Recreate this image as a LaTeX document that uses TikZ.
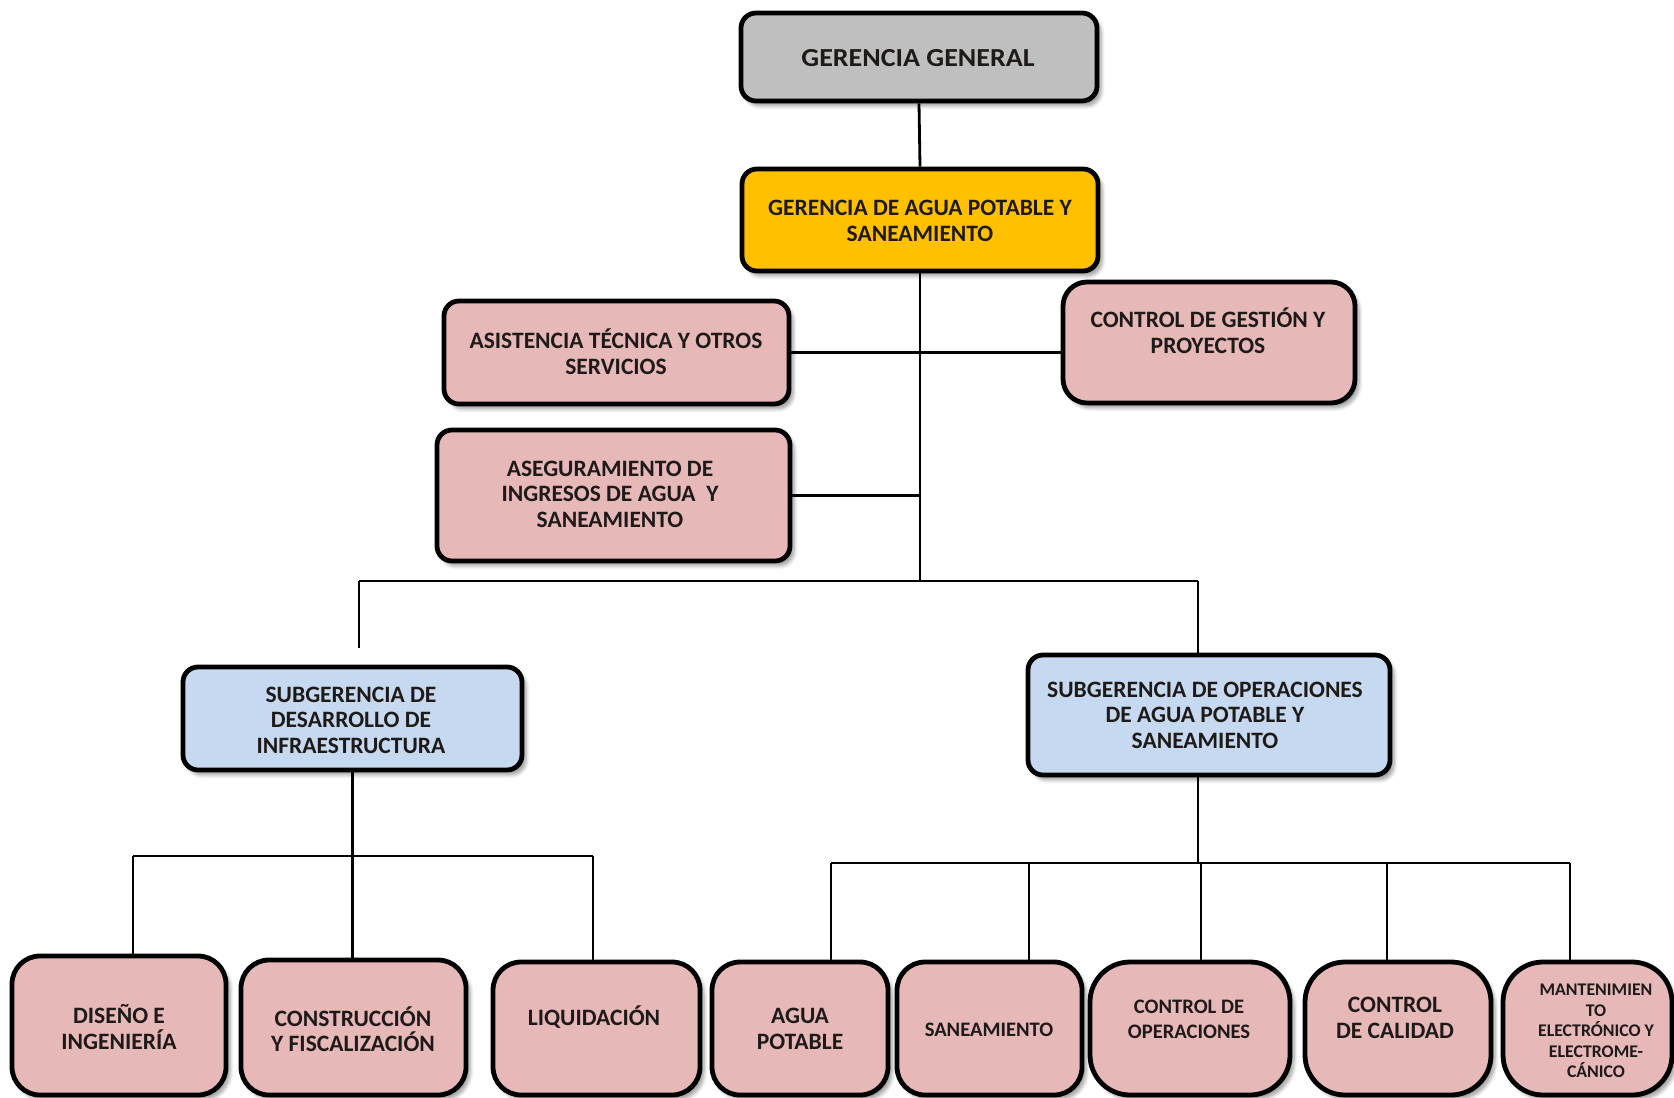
\documentclass[tikz,border=0pt]{standalone}
\usepackage{fontspec}
\usepackage{graphicx}
\setmainfont{Carlito}
\usetikzlibrary{shadows.blur}
\definecolor{ggray}{HTML}{BFBFBF}
\definecolor{ggold}{HTML}{FFC000}
\definecolor{gpink}{HTML}{E6B8B7}
\definecolor{gblue}{HTML}{C6D9F1}
\definecolor{txtc}{HTML}{1E1A18}
\tikzset{
  box/.style={draw=black, line width=2.4pt, rounded corners=7.5pt, inner sep=0pt,
    blur shadow={shadow xshift=2pt, shadow yshift=-2.4pt, shadow blur steps=6, shadow opacity=40}},
  bigr/.style={rounded corners=14pt},
  hugr/.style={rounded corners=20pt},
  conn/.style={line width=1.4pt, draw=black},
  txt/.style={align=center, text=txtc, inner sep=0pt, font=\bfseries\fontsize{11.75}{12.8}\selectfont},
  txtsm/.style={txt, font=\bfseries\fontsize{10.3}{12.4}\selectfont},
  txtxs/.style={txt, font=\bfseries\fontsize{8.9}{10.3}\selectfont},
}
\newcommand\bx[6]{\node[box,#6,minimum width={(#4-#2)*0.5pt},minimum height={(#5-#3)*0.5pt}] (#1) at ({(#2+#4)/2},{(#3+#5)/2}) {};}
\begin{document}
\begin{tikzpicture}[x=0.5pt,y=-0.5pt]
\useasboundingbox (0,0) rectangle (1674,1097);
% boxes
\bx{gg}{741}{13}{1097}{101}{fill=ggray}
\bx{gaps}{742}{169}{1098}{271}{fill=ggold}
\bx{ast}{444}{301}{789}{404}{fill=gpink}
\bx{cgp}{1063}{282}{1355}{403}{fill=gpink,rounded corners=12pt}
\bx{ase}{437}{430}{790}{561}{fill=gpink}
\bx{sdi}{183}{667}{522}{770}{fill=gblue}
\bx{sop}{1028}{655}{1390}{775}{fill=gblue}
\bx{dis}{12}{956}{226}{1095}{fill=gpink,bigr}
\bx{con}{241}{960}{466}{1095}{fill=gpink,bigr}
\bx{liq}{493}{962}{700}{1095}{fill=gpink,bigr}
\bx{agu}{712}{962}{888}{1095}{fill=gpink,bigr}
\bx{san}{897}{962}{1082}{1095}{fill=gpink,bigr}
\bx{cop}{1090}{962}{1290}{1095}{fill=gpink,hugr}
\bx{cca}{1305}{962}{1491}{1095}{fill=gpink,hugr}
\bx{man}{1503}{962}{1672}{1095}{fill=gpink,hugr}
% texts
\node[txt, font=\bfseries\fontsize{12.5}{13}\selectfont] (tgg) at (918,58) {\scalebox{1.12}[1.04]{GERENCIA GENERAL}};
\node[txt] (tgaps) at (920,221) {GERENCIA DE AGUA POTABLE Y\\SANEAMIENTO};
\node[txt] (tast) at (616,352) {ASISTENCIA TÉCNICA Y OTROS\\SERVICIOS};
\node[txt] (tcgp) at (1208,331) {CONTROL DE GESTIÓN Y\\PROYECTOS};
\node[txt] (tase) at (610,494) {ASEGURAMIENTO DE\\INGRESOS DE AGUA \ Y\\SANEAMIENTO};
\node[txt] (tsdi) at (351,720) {SUBGERENCIA DE\\DESARROLLO DE\\INFRAESTRUCTURA};
\node[txt] (tsop) at (1205,715) {SUBGERENCIA DE OPERACIONES\\DE AGUA POTABLE Y\\SANEAMIENTO};
\node[txt] (tdis) at (119,1027) {DISEÑO E\\INGENIERÍA};
\node[txt] (tcon) at (353,1029) {CONSTRUCCIÓN\\Y FISCALIZACIÓN};
\node[txt] (tliq) at (594,1017) {LIQUIDACIÓN};
\node[txt] (tagu) at (800,1029) {AGUA\\POTABLE};
\node[txtsm] (tsan) at (989,1030) {SANEAMIENTO};
\node[txtsm] (tcop) at (1189,1019) {CONTROL DE\\OPERACIONES};
\node[txt] (tcca) at (1395,1018) {CONTROL\\DE CALIDAD};
\node[txtxs] (tman) at (1596,1031) {MANTENIMIEN\\TO\\ELECTRÓNICO Y\\ELECTROME-\\CÁNICO};
% junction coordinates
\coordinate (jbar) at (919,581);
\coordinate (bl) at (359,581);
\coordinate (br) at (1198,581);
\coordinate (bld) at (359,648);
\coordinate (lbl) at (133,856);
\coordinate (lbr) at (593,856);
\coordinate (rx) at (1198,863);
\coordinate (r1) at (831,863);
\coordinate (r2) at (1029,863);
\coordinate (r3) at (1201,863);
\coordinate (r4) at (1387,863);
\coordinate (r5) at (1570,863);
% connectors
\draw[conn] (gg.south) -- (gaps.north);
\draw[conn] (gaps.south) -- (gaps.south |- jbar);
\draw[conn] (ast.east) -- (ast.east -| cgp.west);
\draw[conn] (ase.east) -- (ase.east -| gaps.south);
\draw[conn] (bl) -- (br);
\draw[conn] (bl) -- (bld);
\draw[conn] (br) -- (br |- sop.north);
\draw[conn] (sdi.south) -- (sdi.south |- con.north);
\draw[conn] (lbl) -- (lbr);
\draw[conn] (lbl) -- (lbl |- dis.north);
\draw[conn] (lbr) -- (lbr |- liq.north);
\draw[conn] (rx |- sop.south) -- (rx);
\draw[conn] (r1) -- (r5);
\draw[conn] (r1) -- (r1 |- agu.north);
\draw[conn] (r2) -- (r2 |- san.north);
\draw[conn] (r3) -- (r3 |- cop.north);
\draw[conn] (r4) -- (r4 |- cca.north);
\draw[conn] (r5) -- (r5 |- man.north);
\end{tikzpicture}
\end{document}
